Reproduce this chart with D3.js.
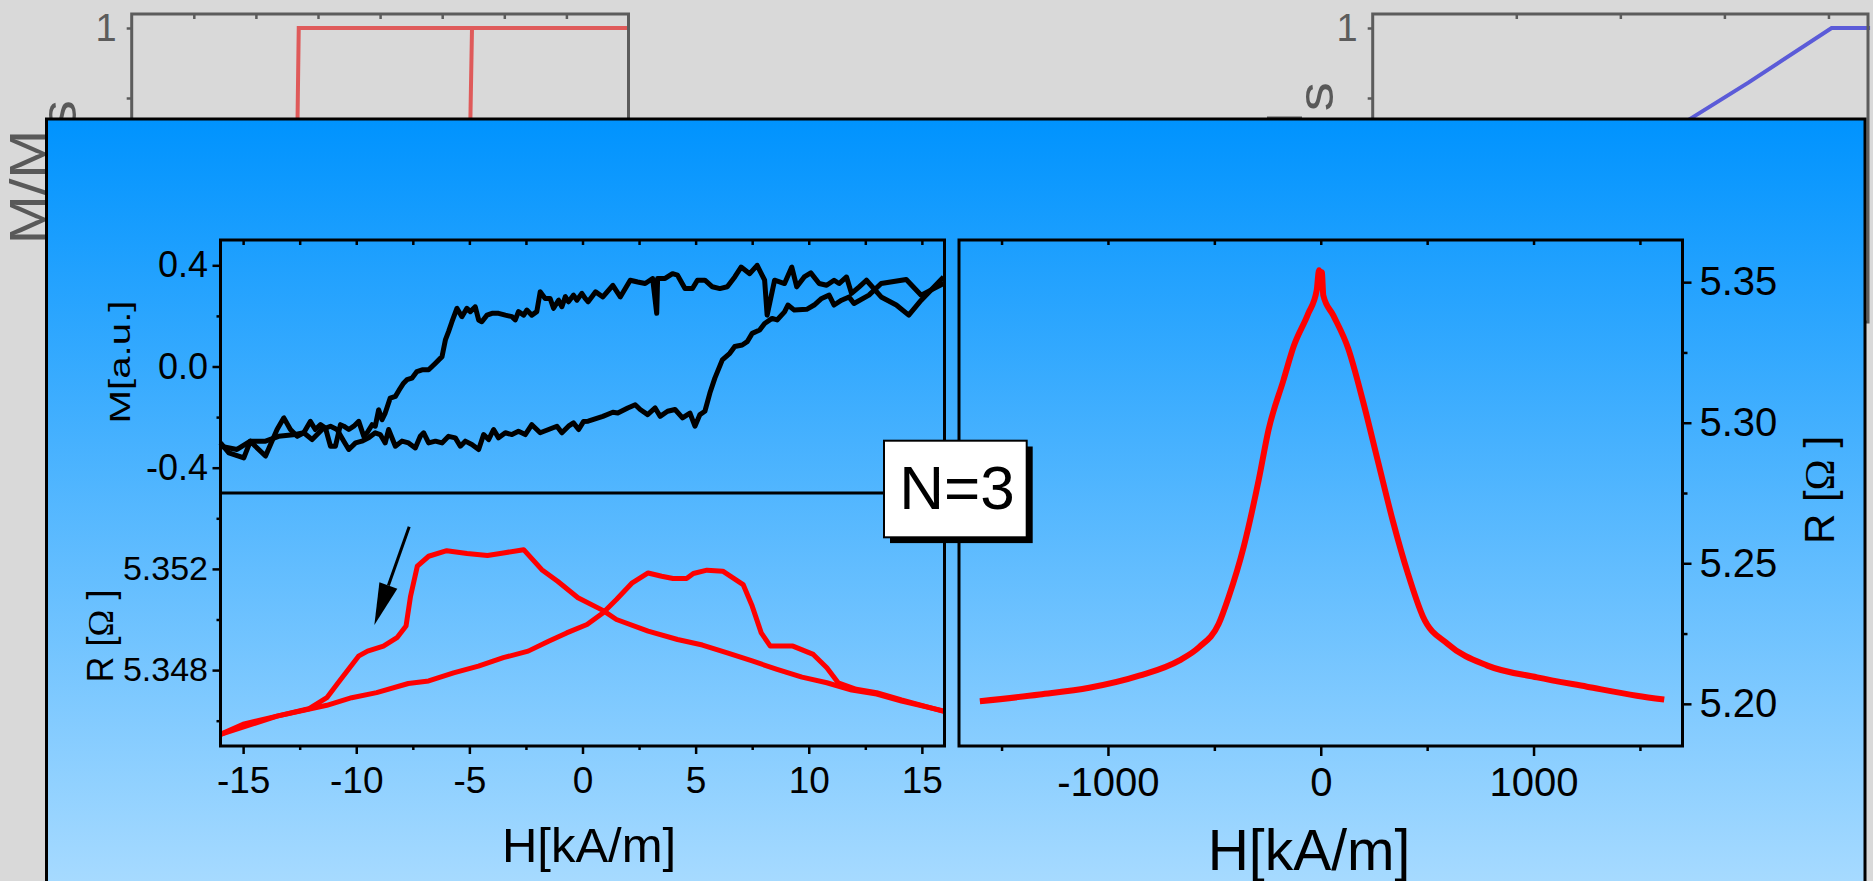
<!DOCTYPE html>
<html>
<head>
<meta charset="utf-8">
<script src="https://cdn.jsdelivr.net/npm/d3@7/dist/d3.min.js"></script>
<style>
  html, body { margin: 0; padding: 0; background: #d9d9d9; overflow: hidden; }
  svg { display: block; }
</style>
</head>
<body>
<svg id="chart" width="1873" height="881"></svg>
<script>
// ---------- background panels: normalised magnetisation M/Ms ----------
const bgLeftH = [4, -1.31, -1.37, -4, 1.40, 1.48, 4];
const bgLeftM = [1, 1, -1, -1, -1, 1, 1];
const bgRightH = [2.4, 2.03, 1.23, 0.69, 0.45];
const bgRightM = [1, 1, 0.61, 0.36, 0.25];
const bgLeftTicks = [-3, -2, -1, 0, 1, 2, 3];
const bgRightTicks = [-1, 0, 1, 2];

// ---------- inset: M(H) hysteresis, field sweep down (upper branch) ----------
const mDownH = [15.96, 14.97, 14.42, 13.87, 13.20, 12.55, 12.23, 11.89, 11.67, 11.34, 11.12, 10.79, 10.46, 10.09, 9.80, 9.47, 9.25, 8.93, 8.49, 8.16, 8.05, 7.72, 7.39, 7.01, 6.73, 6.40, 6.07, 5.74, 5.41, 5.08, 4.86, 4.53, 4.20, 3.98, 3.65, 3.32, 3.28, 3.10, 2.77, 2.44, 2.11, 1.67, 1.34, 0.90, 0.58, 0.25, 0.12, -0.03, -0.25, -0.40, -0.62, -0.76, -0.91, -1.06, -1.28, -1.43, -1.65, -1.87, -2.02, -2.24, -2.46, -2.60, -2.83, -2.97, -3.12, -3.41, -3.71, -4.00, -4.22, -4.45, -4.59, -4.74, -4.96, -5.11, -5.33, -5.55, -5.77, -5.92, -6.06, -6.21, -6.50, -6.80, -7.09, -7.32, -7.54, -7.76, -7.91, -8.05, -8.27, -8.50, -8.72, -8.86, -9.01, -9.16, -9.30, -9.52, -9.67, -9.89, -10.11, -10.33, -10.55, -10.70, -10.92, -11.14, -11.36, -11.58, -11.81, -12.03, -12.32, -12.61, -12.91, -13.20, -13.50, -14.01, -14.46, -14.68, -14.97, -15.63, -16.0];
const mDownM = [0.354, 0.262, 0.203, 0.243, 0.275, 0.341, 0.315, 0.289, 0.354, 0.328, 0.341, 0.321, 0.328, 0.370, 0.354, 0.315, 0.393, 0.328, 0.341, 0.203, 0.341, 0.400, 0.367, 0.393, 0.354, 0.315, 0.308, 0.315, 0.341, 0.341, 0.308, 0.308, 0.361, 0.367, 0.348, 0.348, 0.210, 0.348, 0.328, 0.334, 0.341, 0.275, 0.321, 0.275, 0.295, 0.256, 0.269, 0.289, 0.262, 0.282, 0.256, 0.276, 0.236, 0.262, 0.230, 0.269, 0.269, 0.295, 0.217, 0.203, 0.223, 0.203, 0.217, 0.184, 0.197, 0.203, 0.210, 0.210, 0.203, 0.177, 0.184, 0.236, 0.217, 0.230, 0.197, 0.230, 0.177, 0.138, 0.105, 0.039, 0.013, -0.013, -0.013, -0.020, -0.046, -0.052, -0.066, -0.085, -0.118, -0.125, -0.184, -0.210, -0.171, -0.236, -0.230, -0.262, -0.276, -0.217, -0.236, -0.249, -0.236, -0.230, -0.315, -0.315, -0.243, -0.230, -0.249, -0.217, -0.262, -0.276, -0.249, -0.203, -0.249, -0.354, -0.315, -0.295, -0.361, -0.341, -0.302];

// ---------- inset: M(H), field sweep up (lower branch) ----------
const mUpH = [-16.0, -15.27, -14.68, -14.01, -13.43, -12.69, -12.32, -11.95, -11.51, -11.14, -10.85, -10.55, -10.33, -10.03, -9.75, -9.45, -9.16, -8.94, -8.72, -8.57, -8.27, -7.98, -7.69, -7.39, -7.17, -7.02, -6.80, -6.50, -6.21, -5.92, -5.62, -5.40, -5.18, -4.89, -4.59, -4.37, -4.15, -3.93, -3.71, -3.41, -3.12, -2.83, -2.53, -2.24, -1.87, -1.50, -1.13, -0.91, -0.62, -0.40, -0.17, 0.05, 0.25, 0.90, 1.34, 1.56, 2.00, 2.33, 2.55, 2.88, 3.21, 3.43, 3.76, 4.09, 4.42, 4.75, 4.97, 5.19, 5.41, 5.63, 5.85, 6.18, 6.51, 6.73, 7.06, 7.28, 7.50, 7.83, 8.05, 8.38, 8.60, 8.93, 9.08, 9.36, 9.91, 10.24, 10.57, 10.90, 11.12, 11.45, 11.78, 12.00, 12.66, 13.20, 14.31, 14.97, 15.96];
const mUpM = [-0.315, -0.328, -0.295, -0.295, -0.276, -0.269, -0.262, -0.289, -0.249, -0.236, -0.249, -0.295, -0.328, -0.302, -0.295, -0.282, -0.262, -0.269, -0.302, -0.249, -0.315, -0.295, -0.302, -0.322, -0.276, -0.262, -0.302, -0.295, -0.302, -0.276, -0.282, -0.315, -0.295, -0.308, -0.328, -0.269, -0.289, -0.249, -0.282, -0.262, -0.269, -0.256, -0.269, -0.230, -0.262, -0.249, -0.236, -0.262, -0.236, -0.223, -0.249, -0.217, -0.216, -0.197, -0.181, -0.184, -0.164, -0.151, -0.170, -0.190, -0.164, -0.197, -0.177, -0.170, -0.203, -0.184, -0.236, -0.190, -0.177, -0.105, -0.046, 0.026, 0.052, 0.079, 0.085, 0.098, 0.131, 0.144, 0.170, 0.190, 0.184, 0.216, 0.243, 0.223, 0.226, 0.243, 0.269, 0.282, 0.243, 0.262, 0.275, 0.249, 0.282, 0.328, 0.344, 0.282, 0.328];

// ---------- inset: R(H) low field, two sweep directions ----------
const rNegPeakH = [-16.0, -15.0, -13.5, -12.1, -11.3, -10.8, -9.9, -9.5, -8.8, -8.2, -7.8, -7.6, -7.3, -6.8, -6.0, -5.1, -4.2, -3.5, -2.6, -1.8, -1.1, -0.2, 0.9, 1.5, 2.9, 4.2, 5.3, 6.4, 7.5, 8.6, 9.7, 10.8, 11.9, 13.0, 14.1, 16.0];
const rNegPeakR = [5.34546, 5.34586, 5.34618, 5.34647, 5.34691, 5.34750, 5.34855, 5.34875, 5.34895, 5.34928, 5.34974, 5.35092, 5.35211, 5.35250, 5.35272, 5.35261, 5.35253, 5.35263, 5.35276, 5.35197, 5.35151, 5.35086, 5.35036, 5.35000, 5.34954, 5.34921, 5.34899, 5.34868, 5.34836, 5.34803, 5.34772, 5.34750, 5.34721, 5.34705, 5.34678, 5.34638];
const rPosPeakH = [-16.0, -13.5, -11.3, -10.2, -9.1, -7.7, -6.8, -5.7, -4.6, -3.5, -2.4, -1.5, -0.7, 0.2, 0.9, 1.5, 2.2, 2.9, 3.5, 4.0, 4.6, 4.9, 5.5, 6.2, 7.1, 7.5, 7.9, 8.3, 9.3, 10.2, 10.8, 11.3, 12.1, 13.0, 14.1, 16.0];
const rPosPeakR = [5.34546, 5.34618, 5.34661, 5.34691, 5.34711, 5.34747, 5.34757, 5.34789, 5.34816, 5.34849, 5.34875, 5.34914, 5.34947, 5.34980, 5.35026, 5.35079, 5.35145, 5.35184, 5.35171, 5.35162, 5.35162, 5.35182, 5.35195, 5.35191, 5.35138, 5.35053, 5.34947, 5.34895, 5.34895, 5.34862, 5.34809, 5.34750, 5.34724, 5.34711, 5.34682, 5.34636];

// ---------- main: R(H) high field ----------
const rHighH = [-1602, -1321, -1088, -853, -666, -573, -480, -432, -362, -292, -245, -175, -128, -59, -19, -8, 0, 5, 12, 59, 129, 199, 269, 339, 409, 480, 597, 783, 1017, 1251, 1485, 1614];
const rHighR = [5.2009, 5.2033, 5.2057, 5.2100, 5.2154, 5.2201, 5.2284, 5.2382, 5.2559, 5.2795, 5.2976, 5.3152, 5.3270, 5.3388, 5.3471, 5.3542, 5.3490, 5.3535, 5.3453, 5.3382, 5.3264, 5.3075, 5.2862, 5.2650, 5.2465, 5.2311, 5.2213, 5.2136, 5.2094, 5.2061, 5.2029, 5.2015];

// ---------- tick values ----------
const mTicks = [-0.4, 0.0, 0.4];
const mMinor = [-0.2, 0.2];
const hLowTicks = [-15, -10, -5, 0, 5, 10, 15];
const hLowMinor = [-12.5, -7.5, -2.5, 2.5, 7.5, 12.5];
const hLowTop = [-15, -12.5, -10, -7.5, -5, -2.5, 0, 2.5, 5, 7.5, 10, 12.5, 15];
const rLowTicks = [5.348, 5.352];
const rLowMinor = [5.346, 5.350, 5.354];
const hHighTicks = [-1000, 0, 1000];
const hHighMinor = [-1500, -500, 500, 1500];
const hHighTop = [-1500, -1000, -500, 0, 500, 1000, 1500];
const rHighTicks = [5.20, 5.25, 5.30, 5.35];
const rHighMinor = [5.225, 5.275, 5.325];

// arrow annotation (tail -> tip) in inset data coordinates
const arrowH = [-7.66, -9.2];
const arrowR = [5.35367, 5.34978];

const FONT = '"Liberation Sans", Arial, Helvetica, sans-serif';
const SERIF = '"Liberation Serif", "Times New Roman", serif';
const GREY = '#5c5c5c';
const svg = d3.select('#chart');
const zip = (a, b) => a.map((v, i) => [v, b[i]]);

function styleAxis(g, size, color) {
  g.attr('font-size', null).attr('font-family', null);
  g.select('.domain').remove();
  g.selectAll('.tick line').attr('stroke', color || '#000').attr('stroke-width', 2.5);
  g.selectAll('.tick text').attr('fill', color || '#000')
    .style('font-family', FONT).style('font-size', size + 'px');
  return g;
}

// ---------- background plots ----------
const yBg = d3.scaleLinear().domain([-1.1, 1.1]).range([322, 14]);
function bgPlot(x, ticks, hs, ms, color) {
  const [x0, x1] = x.range();
  const g = svg.append('g');
  g.append('path')
    .attr('d', d3.line().x(d => x(d[0])).y(d => yBg(d[1]))(zip(hs, ms)))
    .attr('fill', 'none').attr('stroke', color).attr('stroke-width', 4);
  g.append('rect').attr('x', x0).attr('y', yBg.range()[1])
    .attr('width', x1 - x0).attr('height', yBg.range()[0] - yBg.range()[1])
    .attr('fill', 'none').attr('stroke', GREY).attr('stroke-width', 3);
  styleAxis(g.append('g').attr('transform', `translate(0,${yBg.range()[1]})`)
    .call(d3.axisBottom(x).tickValues(ticks).tickSize(5).tickFormat('')), 10, GREY);
  styleAxis(g.append('g').attr('transform', `translate(${x0},0)`)
    .call(d3.axisLeft(yBg).tickValues([1, 0.5]).tickSize(5).tickPadding(10)
      .tickFormat(d => d === 1 ? '1' : '')), 38, GREY);
}
const xBgLeft = d3.scaleLinear().domain([-4, 4]).range([131.7, 628.5]);
const xBgRight = d3.scaleLinear().domain([-2.38, 2.38]).range([1372.7, 1868]);
bgPlot(xBgLeft, bgLeftTicks, bgLeftH, bgLeftM, '#df5a5a');
bgPlot(xBgRight, bgRightTicks, bgRightH, bgRightM, '#5b5bd8');

function msLabel(x, y) {
  const t = svg.append('text')
    .attr('transform', `translate(${x},${y}) rotate(-90) scale(1.18,1)`)
    .attr('text-anchor', 'end').attr('fill', '#595959')
    .style('font-family', FONT).style('font-size', '50px');
  t.append('tspan').text('M/M');
  t.append('tspan').attr('dy', 31).text('s');
}
msLabel(45, 100);
msLabel(1302, 82);

// ---------- foreground panel ----------
const defs = svg.append('defs');
const grad = defs.append('linearGradient').attr('id', 'panelFill')
  .attr('gradientUnits', 'userSpaceOnUse')
  .attr('x1', 0).attr('y1', 119).attr('x2', 0).attr('y2', 881);
grad.append('stop').attr('offset', 0).attr('stop-color', '#0093fe');
grad.append('stop').attr('offset', 1).attr('stop-color', '#a6daff');

svg.append('rect').attr('x', 46.5).attr('y', 119).attr('width', 1865 - 46.5).attr('height', 800)
  .attr('fill', 'url(#panelFill)').attr('stroke', '#000').attr('stroke-width', 3);

// ---------- inset scales ----------
const xLow = d3.scaleLinear().domain([-16, 16]).range([220.5, 944.5]);
const yM = d3.scaleLinear().domain([-0.5, 0.5]).range([493, 240]);
const yRLow = d3.scaleLinear().domain([5.345, 5.355]).range([746, 493]);

const inset = svg.append('g');
const lineM = d3.line().x(d => xLow(d[0])).y(d => yM(d[1]));
const lineRLow = d3.line().x(d => xLow(d[0])).y(d => yRLow(d[1]));

[zip(mDownH, mDownM), zip(mUpH, mUpM)].forEach(s => {
  inset.append('path').attr('d', lineM(s)).attr('fill', 'none')
    .attr('stroke', '#000').attr('stroke-width', 5).attr('stroke-linejoin', 'round');
});
[zip(rNegPeakH, rNegPeakR), zip(rPosPeakH, rPosPeakR)].forEach(s => {
  inset.append('path').attr('d', lineRLow(s)).attr('fill', 'none')
    .attr('stroke', '#ff0000').attr('stroke-width', 5).attr('stroke-linejoin', 'round');
});

// frame of the two stacked insets
const [lx0, lx1] = xLow.range();
inset.append('rect').attr('x', lx0).attr('y', 240).attr('width', lx1 - lx0).attr('height', 746 - 240)
  .attr('fill', 'none').attr('stroke', '#000').attr('stroke-width', 3);
inset.append('line').attr('x1', lx0).attr('x2', lx1).attr('y1', yM.range()[0]).attr('y2', yM.range()[0])
  .attr('stroke', '#000').attr('stroke-width', 3);

// inset axes
styleAxis(inset.append('g').attr('transform', `translate(${lx0},0)`)
  .call(d3.axisLeft(yM).tickValues(mTicks).tickSize(8).tickPadding(4.5).tickFormat(d => d.toFixed(1))), 36);
styleAxis(inset.append('g').attr('transform', `translate(${lx0},0)`)
  .call(d3.axisLeft(yM).tickValues(mMinor).tickSize(4).tickFormat('')), 10);
styleAxis(inset.append('g').attr('transform', 'translate(0,240)')
  .call(d3.axisBottom(xLow).tickValues(hLowTop).tickSize(5).tickFormat('')), 10);
styleAxis(inset.append('g').attr('transform', `translate(${lx0},0)`)
  .call(d3.axisLeft(yRLow).tickValues(rLowTicks).tickSize(8).tickPadding(4.5).tickFormat(d => d.toFixed(3))), 34);
styleAxis(inset.append('g').attr('transform', `translate(${lx0},0)`)
  .call(d3.axisLeft(yRLow).tickValues(rLowMinor).tickSize(4).tickFormat('')), 10);
styleAxis(inset.append('g').attr('transform', 'translate(0,746)')
  .call(d3.axisBottom(xLow).tickValues(hLowTicks).tickSize(8).tickPadding(13).tickFormat(d => String(d))), 37);
styleAxis(inset.append('g').attr('transform', 'translate(0,746)')
  .call(d3.axisBottom(xLow).tickValues(hLowMinor).tickSize(4).tickFormat('')), 10);

// inset axis titles
inset.append('text').attr('transform', 'translate(130,362) rotate(-90)')
  .attr('text-anchor', 'middle').attr('textLength', 123).attr('lengthAdjust', 'spacingAndGlyphs')
  .style('font-family', FONT).style('font-size', '30px').text('M[a.u.]');
const rLowTitle = inset.append('text').attr('transform', 'translate(113,636) rotate(-90)')
  .attr('text-anchor', 'middle').style('font-family', FONT).style('font-size', '36px');
rLowTitle.append('tspan').text('R [');
rLowTitle.append('tspan').style('font-family', SERIF).text('\u03A9');
rLowTitle.append('tspan').text(' ]');
inset.append('text').attr('x', 589).attr('y', 862).attr('text-anchor', 'middle')
  .style('font-family', FONT).style('font-size', '49px').text('H[kA/m]');

// arrow
const ax = arrowH.map(xLow), ay = arrowR.map(yRLow);
const dx = ax[1] - ax[0], dy = ay[1] - ay[0], len = Math.hypot(dx, dy);
const ux = dx / len, uy = dy / len, headL = 42, headW = 9.5;
const bx = ax[1] - ux * headL, by = ay[1] - uy * headL;
inset.append('line').attr('x1', ax[0]).attr('y1', ay[0]).attr('x2', bx).attr('y2', by)
  .attr('stroke', '#000').attr('stroke-width', 3);
inset.append('path')
  .attr('d', `M${ax[1]},${ay[1]}L${bx - uy * headW},${by + ux * headW}L${bx + uy * headW},${by - ux * headW}Z`)
  .attr('fill', '#000');

// ---------- main plot ----------
const xHigh = d3.scaleLinear().domain([-1700, 1700]).range([959, 1682.5]);
const yHigh = d3.scaleLinear().domain([5.185, 5.365]).range([746, 240]);
const main = svg.append('g');
main.append('path')
  .attr('d', d3.line().curve(d3.curveMonotoneX).x(d => xHigh(d[0])).y(d => yHigh(d[1]))(zip(rHighH, rHighR)))
  .attr('fill', 'none').attr('stroke', '#ff0000').attr('stroke-width', 6).attr('stroke-linejoin', 'round');
const [hx0, hx1] = xHigh.range();
main.append('rect').attr('x', hx0).attr('y', 240).attr('width', hx1 - hx0).attr('height', 506)
  .attr('fill', 'none').attr('stroke', '#000').attr('stroke-width', 3);
styleAxis(main.append('g').attr('transform', 'translate(0,240)')
  .call(d3.axisBottom(xHigh).tickValues(hHighTop).tickSize(5).tickFormat('')), 10);
styleAxis(main.append('g').attr('transform', 'translate(0,746)')
  .call(d3.axisBottom(xHigh).tickValues(hHighTicks).tickSize(10).tickPadding(12).tickFormat(d => String(d))), 40);
styleAxis(main.append('g').attr('transform', 'translate(0,746)')
  .call(d3.axisBottom(xHigh).tickValues(hHighMinor).tickSize(5).tickFormat('')), 10);
styleAxis(main.append('g').attr('transform', `translate(${hx1},0)`)
  .call(d3.axisRight(yHigh).tickValues(rHighTicks).tickSize(9).tickPadding(8).tickFormat(d => d.toFixed(2))), 40);
styleAxis(main.append('g').attr('transform', `translate(${hx1},0)`)
  .call(d3.axisRight(yHigh).tickValues(rHighMinor).tickSize(5).tickFormat('')), 10);

main.append('text').attr('x', 1309).attr('y', 870).attr('text-anchor', 'middle')
  .style('font-family', FONT).style('font-size', '57px').text('H[kA/m]');
const rHighTitle = main.append('text').attr('transform', 'translate(1834,490) rotate(-90)')
  .attr('text-anchor', 'middle').style('font-family', FONT).style('font-size', '42px');
rHighTitle.append('tspan').text('R [');
rHighTitle.append('tspan').style('font-family', SERIF).text('\u03A9');
rHighTitle.append('tspan').text(' ]');

// ---------- sample label ----------
const box = svg.append('g');
box.append('rect').attr('x', 890).attr('y', 446.5).attr('width', 142.7).attr('height', 96.6).attr('fill', '#000');
box.append('rect').attr('x', 884).attr('y', 440.7).attr('width', 142.7).attr('height', 96.6)
  .attr('fill', '#fff').attr('stroke', '#000').attr('stroke-width', 2);
box.append('text').attr('x', 957).attr('y', 509).attr('text-anchor', 'middle')
  .style('font-family', FONT).style('font-size', '62px').text('N=3');
</script>
</body>
</html>
